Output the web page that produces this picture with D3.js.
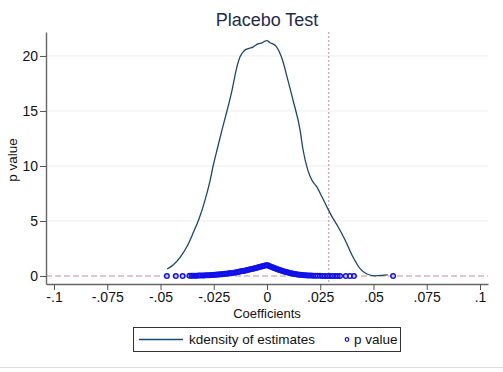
<!DOCTYPE html>
<html>
<head>
<meta charset="utf-8">
<script src="https://cdn.jsdelivr.net/npm/d3@7"></script>
<style>
  body { margin: 0; background: #fff; }
  svg { display: block; font-family: Arial, "Liberation Sans", sans-serif; }
</style>
</head>
<body>
<script>
var NAVY = '#1a476f'
var MARKER_BLUE = '#1010e8'
var REF_RED = '#c98a9a'
var GRID = '#ececec'

var x_ticks = [-0.1, -0.075, -0.05, -0.025, 0, 0.025, 0.05, 0.075, 0.1]
var y_ticks = [0, 5, 10, 15, 20]
var placebo_line = 0.029

// kdensity of estimates
var kd_x = [-0.0469, -0.0441, -0.0408, -0.0375, -0.0347, -0.0319, -0.0291, -0.0267, -0.0253, -0.0234,
            -0.0211, -0.0188, -0.0164, -0.0145, -0.0127, -0.0108, -0.0084, -0.0066, -0.0052, -0.0042,
            -0.0023, -0.0009, 0.0000, 0.0014, 0.0028, 0.0042, 0.0056, 0.0075, 0.0094, 0.0122,
            0.0155, 0.0169, 0.0192, 0.0211, 0.0234, 0.0258, 0.0281, 0.0305, 0.0333, 0.0366,
            0.0403, 0.0436, 0.0469, 0.0506, 0.0539, 0.0567]
var kd_y = [0.64, 1.0, 1.7, 2.7, 3.9, 5.2, 6.9, 8.7, 10.0, 11.5,
            13.3, 15.0, 16.9, 18.7, 19.9, 20.45, 20.7, 20.8, 21.0, 21.1,
            21.2, 21.35, 21.4, 21.2, 21.1, 20.9, 20.45, 19.5, 18.1, 16.0,
            13.3, 11.5, 9.6, 8.7, 8.1, 7.2, 6.3, 5.4, 4.5, 3.3,
            1.75, 0.7, 0.18, 0.02, 0.05, 0.1]

// p value of each placebo estimate
var pv_x = [-0.0470, -0.0428, -0.0396,
  -0.0364, -0.0355, -0.0347, -0.0338, -0.0330, -0.0321, -0.0313, -0.0304, -0.0296, -0.0288,
  -0.0279, -0.0271, -0.0263, -0.0255, -0.0247, -0.0240, -0.0233, -0.0226, -0.0219, -0.0212,
  -0.0205, -0.0198, -0.0191, -0.0184, -0.0177, -0.0170, -0.0163, -0.0156, -0.0149, -0.0142,
  -0.0135, -0.0128, -0.0121, -0.0114, -0.0107, -0.0100, -0.0093, -0.0086, -0.0079, -0.0072,
  -0.0065, -0.0058, -0.0051, -0.0044, -0.0037, -0.0030, -0.0023, -0.0016, -0.0009, -0.0003,
  0.0004, 0.0010, 0.0016, 0.0022, 0.0028, 0.0034, 0.0040, 0.0046, 0.0052, 0.0058,
  0.0064, 0.0070, 0.0076, 0.0082, 0.0088, 0.0094, 0.0100, 0.0106, 0.0112, 0.0118,
  0.0124, 0.0130, 0.0137, 0.0144, 0.0151, 0.0158, 0.0166, 0.0174, 0.0182, 0.0190,
  0.0198, 0.0207, 0.0216, 0.0226, 0.0236, 0.0248, 0.0260, 0.0272, 0.0284, 0.0296,
  0.0308, 0.0320, 0.0332, 0.0343, 0.0370, 0.0389, 0.0408, 0.0592]
var pv_y = [0.000, 0.001, 0.002,
  0.017, 0.019, 0.023, 0.026, 0.030, 0.035, 0.039, 0.046, 0.051, 0.058,
  0.066, 0.075, 0.084, 0.093, 0.103, 0.114, 0.126, 0.137, 0.150, 0.164,
  0.178, 0.194, 0.208, 0.226, 0.245, 0.263, 0.284, 0.303, 0.327, 0.352,
  0.374, 0.400, 0.424, 0.453, 0.484, 0.510, 0.542, 0.569, 0.603, 0.638,
  0.667, 0.704, 0.734, 0.772, 0.810, 0.841, 0.881, 0.912, 0.952, 0.984,
  0.968, 0.920, 0.873, 0.826, 0.772, 0.726, 0.682, 0.638, 0.596, 0.555,
  0.516, 0.478, 0.436, 0.401, 0.368, 0.337, 0.308, 0.280, 0.254, 0.230,
  0.204, 0.184, 0.162, 0.142, 0.124, 0.107, 0.091, 0.075, 0.063, 0.052,
  0.043, 0.035, 0.028, 0.021, 0.016, 0.012, 0.009, 0.006, 0.004, 0.003,
  0.002, 0.001, 0.001, 0.000, 0.000, 0.000, 0.000, 0.000]

var W = 503, H = 372
var plot = { left: 46, right: 488, top: 32, bottom: 284 }
var MARKER_R = 2.3

// stata style labels: .025 instead of 0.025
function stata_fmt(d){
  if(d === 0) return '0'
  return String(d).replace('0.', '.')
}

function zip(a, b){
  return a.map(function(v, i){ return [v, b[i]] })
}

var svg = d3.select('body').append('svg')
  .attr('width', W)
  .attr('height', H)

// scales span the plot region; ticks land where the picture has them
var x = d3.scaleLinear().domain([-0.10376, 0.10376]).range([plot.left, plot.right])
var y = d3.scaleLinear().domain([-0.727, 22.18]).range([plot.bottom, plot.top])

// gridlines
svg.append('g').selectAll('line')
  .data(y_ticks.filter(function(d){ return d > 0 }))
  .enter().append('line')
  .attr('x1', plot.left).attr('x2', plot.right)
  .attr('y1', function(d){ return y(d) }).attr('y2', function(d){ return y(d) })
  .attr('stroke', GRID).attr('stroke-width', 1)

// reference lines
svg.append('line')
  .attr('x1', plot.left).attr('x2', plot.right)
  .attr('y1', y(0)).attr('y2', y(0))
  .attr('stroke', REF_RED).attr('stroke-width', 1)
  .attr('stroke-dasharray', '6,3')
svg.append('line')
  .attr('x1', x(placebo_line)).attr('x2', x(placebo_line))
  .attr('y1', plot.top).attr('y2', plot.bottom)
  .attr('stroke', REF_RED).attr('stroke-width', 1)
  .attr('stroke-dasharray', '2,2')

// kdensity
var line = d3.line()
  .x(function(d){ return x(d[0]) })
  .y(function(d){ return y(d[1]) })
  .curve(d3.curveMonotoneX)
svg.append('path')
  .datum(zip(kd_x, kd_y))
  .attr('d', line)
  .attr('fill', 'none')
  .attr('stroke', NAVY)
  .attr('stroke-width', 1.3)

// p values
svg.append('g').selectAll('circle')
  .data(zip(pv_x, pv_y))
  .enter().append('circle')
  .attr('cx', function(d){ return x(d[0]) })
  .attr('cy', function(d){ return y(d[1]) })
  .attr('r', MARKER_R)
  .attr('fill', 'none')
  .attr('stroke', MARKER_BLUE)
  .attr('stroke-width', 1.4)

// axes
var yAxis = svg.append('g')
  .attr('transform', 'translate(' + plot.left + ',0)')
  .call(d3.axisLeft(y).tickValues(y_ticks).tickFormat(stata_fmt).tickSize(6).tickSizeOuter(0))
var xAxis = svg.append('g')
  .attr('transform', 'translate(0,' + plot.bottom + ')')
  .call(d3.axisBottom(x).tickValues(x_ticks).tickFormat(stata_fmt).tickSize(6).tickSizeOuter(0))

;[yAxis, xAxis].forEach(function(a){
  a.select('.domain').attr('stroke', '#666').attr('stroke-width', 1.4)
  a.selectAll('.tick line').attr('stroke', '#555')
  a.selectAll('.tick text').attr('fill', '#111').attr('font-size', '14px')
    .attr('font-family', 'Arial, "Liberation Sans", sans-serif')
})
yAxis.selectAll('.tick text').attr('x', -8)
xAxis.selectAll('.tick text').attr('y', 8)

// titles
svg.append('text')
  .attr('x', 267).attr('y', 26)
  .attr('text-anchor', 'middle')
  .attr('font-size', '18px')
  .attr('fill', '#1e2b4f')
  .text('Placebo Test')
svg.append('text')
  .attr('transform', 'translate(17,160) rotate(-90)')
  .attr('text-anchor', 'middle')
  .attr('font-size', '13.5px')
  .attr('fill', '#111')
  .text('p value')
svg.append('text')
  .attr('x', 267).attr('y', 318)
  .attr('text-anchor', 'middle')
  .attr('font-size', '13px')
  .attr('fill', '#111')
  .text('Coefficients')

// legend
var legend = svg.append('g')
legend.append('rect')
  .attr('x', 133.5).attr('y', 327.5)
  .attr('width', 267).attr('height', 24)
  .attr('fill', '#fff').attr('stroke', '#333').attr('stroke-width', 1)
legend.append('line')
  .attr('x1', 139).attr('x2', 183)
  .attr('y1', 339.5).attr('y2', 339.5)
  .attr('stroke', NAVY).attr('stroke-width', 1.3)
legend.append('text')
  .attr('x', 189).attr('y', 344)
  .attr('font-size', '13.5px').attr('fill', '#111')
  .text('kdensity of estimates')
legend.append('circle')
  .attr('cx', 347).attr('cy', 339.5).attr('r', 1.8)
  .attr('fill', 'none').attr('stroke', MARKER_BLUE).attr('stroke-width', 1.2)
legend.append('text')
  .attr('x', 354).attr('y', 344)
  .attr('font-size', '13.5px').attr('fill', '#111')
  .text('p value')

// outer region edge
svg.append('line')
  .attr('x1', 0).attr('x2', W)
  .attr('y1', 367.5).attr('y2', 367.5)
  .attr('stroke', '#ddd').attr('stroke-width', 1)
</script>
</body>
</html>
